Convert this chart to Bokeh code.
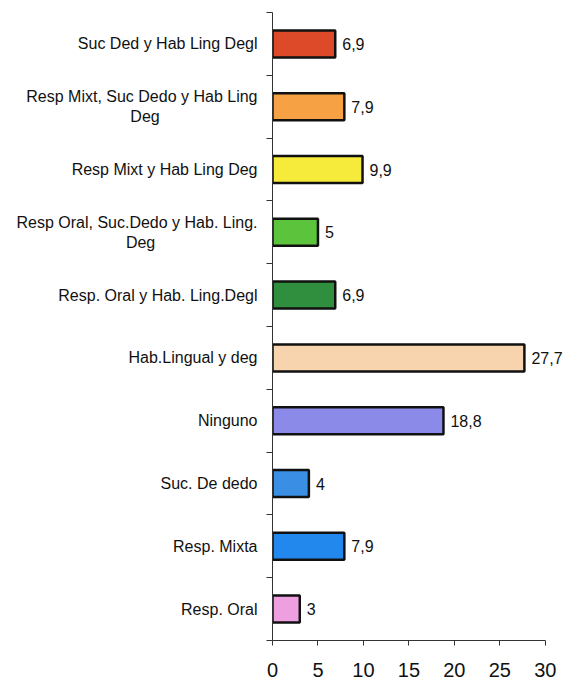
from bokeh.plotting import figure
from bokeh.models import FixedTicker, Range1d, ColumnDataSource, LabelSet
from bokeh.core.properties import value
from bokeh.embed import file_html
from bokeh.resources import INLINE

# Data (bottom to top)
categories = [
    "Resp. Oral",
    "Resp. Mixta",
    "Suc. De dedo",
    "Ninguno",
    "Hab.Lingual y deg",
    "Resp. Oral y Hab. Ling.Degl",
    "Resp Oral, Suc.Dedo y Hab. Ling.\nDeg",
    "Resp Mixt y Hab Ling Deg",
    "Resp Mixt, Suc Dedo y Hab Ling\nDeg",
    "Suc Ded y Hab Ling Degl",
]
values = [3, 7.9, 4, 18.8, 27.7, 6.9, 5, 9.9, 7.9, 6.9]
x_ticks = [0, 5, 10, 15, 20, 25, 30]

colors = ["#ee9fe0", "#2288ee", "#3a8ee4", "#8c8ae8", "#f7d4ae",
          "#2f8f3f", "#5cc43c", "#f6ea3a", "#f6a244", "#dc4a2a"]

n = len(categories)
centers = [i + 0.5 for i in range(n)]
bounds = [float(i) for i in range(n + 1)]
labels = [f"{v:g}".replace(".", ",") for v in values]

# approximate Arial/Liberation Sans advance widths (per 1000 em)
_W = {" ": 278, ",": 278, ".": 278, "R": 722, "M": 833, "S": 667, "D": 722,
      "H": 722, "L": 556, "O": 778, "i": 222, "l": 222, "r": 333, "t": 278,
      "c": 500, "s": 500, "x": 500, "y": 500}


def _width(s):
    return sum(_W.get(ch, 556) for ch in s)


def centre_lines(lab):
    # centre the second line under the first (tick labels are right-aligned)
    parts = lab.split("\n")
    if len(parts) == 1:
        return lab
    first, last = parts
    pad = round((_width(first) - _width(last)) / 2 / 285)
    return first + "\n" + last + "\u00a0" * pad


src = ColumnDataSource(dict(y=centers, v=values, c=colors, t=labels))

p = figure(width=563, height=680, output_backend="svg", toolbar_location=None,
           x_range=Range1d(0, 32), y_range=Range1d(0, n),
           min_border_left=272, min_border_right=0, min_border_top=12,
           min_border_bottom=40)
p.outline_line_color = None
p.grid.visible = False
p.background_fill_color = "white"
p.border_fill_color = "white"

p.hbar(y="y", left=0, right="v", height=0.43, fill_color="c",
       line_color="#111111", line_width=2.5, source=src)

vl = LabelSet(x="v", y="y", text="t", source=src, x_offset=7,
              text_baseline="middle", text_font=value("Liberation Sans"),
              text_font_size="16px", text_color="#111111")
p.add_layout(vl)

# y axis
ya = p.yaxis[0]
ya.ticker = FixedTicker(ticks=centers, minor_ticks=bounds)
ya.major_label_overrides = {c: centre_lines(lab) for c, lab in zip(centers, categories)}
ya.major_tick_line_color = None
ya.major_tick_out = 0
ya.major_tick_in = 0
ya.minor_tick_out = 6
ya.minor_tick_in = 0
ya.minor_tick_line_color = "#333333"
ya.axis_line_color = "#333333"
ya.major_label_standoff = 9
ya.major_label_text_font = "Liberation Sans"
ya.major_label_text_font_size = "16px"
ya.major_label_text_color = "#111111"

# x axis
xa = p.xaxis[0]
xa.ticker = FixedTicker(ticks=x_ticks)
xa.bounds = (0, 30)
xa.minor_tick_line_color = None
xa.major_tick_out = 5
xa.major_tick_in = 0
xa.major_tick_line_color = "#333333"
xa.axis_line_color = "#333333"
xa.major_label_standoff = 17
xa.major_label_text_font = "Liberation Sans"
xa.major_label_text_font_size = "20px"
xa.major_label_text_color = "#111111"

open("out.html", "w").write(file_html(p, INLINE))
